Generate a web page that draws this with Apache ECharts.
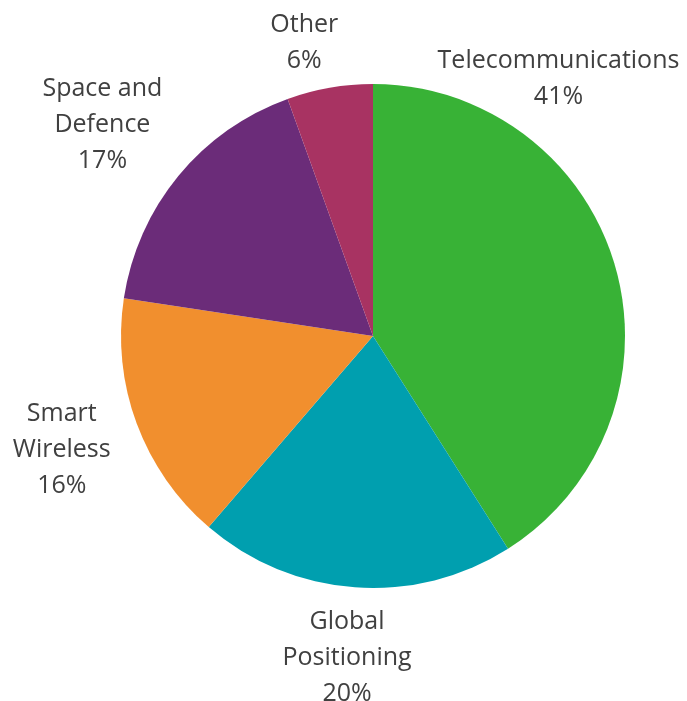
<!DOCTYPE html>
<html><head><meta charset="utf-8">
<script src="https://cdn.jsdelivr.net/npm/echarts@6/dist/echarts.min.js"></script>
<style>html,body{margin:0;padding:0;background:#fff}#c{width:687px;height:701px}</style>
</head><body><div id="c"></div>
<script>
const categories = ['Telecommunications', 'Global\nPositioning', 'Smart\nWireless', 'Space and\nDefence', 'Other'];
const values = [41.0, 20.3, 16.1, 17.1, 5.5];
const pctLabels = ['41%', '20%', '16%', '17%', '6%'];
const colors = ['#38B236', '#009FAF', '#F18F2E', '#6B2C79', '#A83362'];
// label nudges (style only), in px
const labelShift = [[-187, -173], [-2, 2], [-15, 2], [-18, -7], [-17, 5]];

const CX = 373, CY = 336, R = 252, GAP = 15;
const total = values.reduce((a, b) => a + b, 0);

const chart = echarts.init(document.getElementById('c'));
chart.setOption({
  animation: false,
  series: [{
    type: 'pie',
    center: [CX, CY],
    radius: R,
    startAngle: 90,
    clockwise: true,
    data: categories.map((c, i) => ({ name: c, value: values[i], itemStyle: { color: colors[i] } })),
    itemStyle: { borderWidth: 0 },
    label: {
      show: true,
      position: 'outside',
      formatter: p => p.name + '\n' + pctLabels[p.dataIndex],
      fontFamily: 'Open Sans',
      fontSize: 25,
      lineHeight: 36,
      color: '#404040',
      overflow: 'none'
    },
    labelLine: { show: false, length: 15, length2: 0 },
    labelLayout: function (params) {
      const i = params.dataIndex;
      let cum = 0;
      for (let k = 0; k < i; k++) cum += values[k];
      const frac = (cum + values[i] / 2) / total;
      const a = frac * 2 * Math.PI;
      const dx = Math.sin(a), dy = -Math.cos(a);
      const ax = CX + (R + GAP) * dx, ay = CY + (R + GAP) * dy;
      const w = params.labelRect.width, h = params.labelRect.height;
      return {
        x: ax + dx * w / 2 + labelShift[i][0],
        y: ay + dy * h / 2 + labelShift[i][1],
        align: 'center',
        verticalAlign: 'middle'
      };
    }
  }]
});
</script></body></html>
